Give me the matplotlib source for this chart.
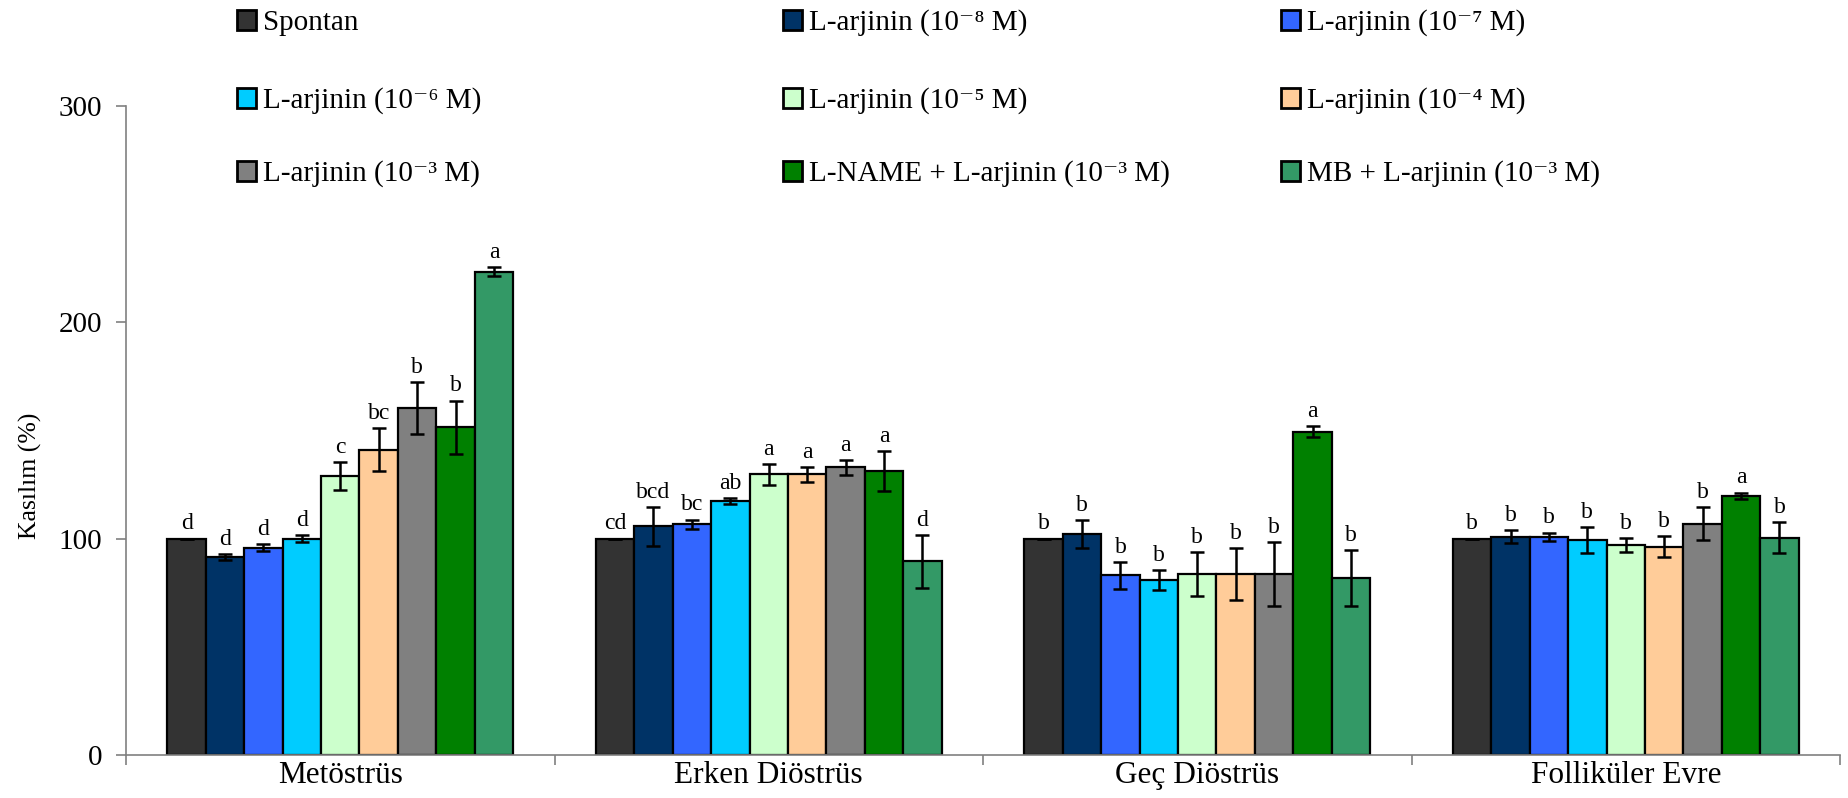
import numpy as np
import matplotlib.pyplot as plt

plt.rcParams['font.family'] = ['Liberation Serif', 'DejaVu Serif']

categories = ["Metöstrüs", "Erken Diöstrüs", "Geç Diöstrüs", "Folliküler Evre"]
series = ["Spontan",
          "L-arjinin (10⁻⁸ M)", "L-arjinin (10⁻⁷ M)",
          "L-arjinin (10⁻⁶ M)", "L-arjinin (10⁻⁵ M)",
          "L-arjinin (10⁻⁴ M)", "L-arjinin (10⁻³ M)",
          "L-NAME + L-arjinin (10⁻³ M)", "MB + L-arjinin (10⁻³ M)"]
colors = ["#333333", "#003366", "#3366FF", "#00CCFF", "#CCFFCC",
          "#FFCC99", "#808080", "#008000", "#339966"]

# values, one list per phase (order follows series)
met_mean = [100, 91.5, 95.7, 100, 128.9, 141.1, 160.4, 151.4, 223.4]
met_err = [0, 1.3, 1.6, 1.7, 6.4, 10, 11.9, 12.4, 2.1]
met_sig = ["d", "d", "d", "d", "c", "bc", "b", "b", "a"]

erk_mean = [100, 105.7, 106.6, 117.3, 129.8, 129.8, 132.9, 131.2, 89.5]
erk_err = [0, 8.9, 2.2, 1.5, 4.8, 3.4, 3.3, 9.1, 12.1]
erk_sig = ["cd", "bcd", "bc", "ab", "a", "a", "a", "a", "d"]

gec_mean = [100, 102.3, 83.0, 80.7, 83.8, 83.8, 83.5, 149.5, 81.8]
gec_err = [0, 6.4, 6.3, 4.6, 10.1, 12, 14.8, 2.6, 13.1]
gec_sig = ["b", "b", "b", "b", "b", "b", "b", "a", "b"]

fol_mean = [100, 100.9, 100.9, 99.4, 97.1, 96.3, 106.8, 119.7, 100.5]
fol_err = [0, 3.1, 1.9, 5.9, 3.2, 5.0, 7.6, 1.6, 7.0]
fol_sig = ["b", "b", "b", "b", "b", "b", "b", "a", "b"]

means = np.array([met_mean, erk_mean, gec_mean, fol_mean])
errs = np.array([met_err, erk_err, gec_err, fol_err])
sigs = [met_sig, erk_sig, gec_sig, fol_sig]

fig = plt.figure(figsize=(18.49, 7.98), dpi=100)
ax = fig.add_axes([0.06815, 0.0539, 0.927, 0.8133])

n = len(series)
w = 0.807 / n
x = np.arange(len(categories))

handles = []
for i in range(n):
    pos = x - 0.807 / 2 + w * (i + 0.5)
    b = ax.bar(pos, means[:, i], w, color=colors[i], edgecolor='black', linewidth=1.6,
               yerr=errs[:, i], capsize=5,
               error_kw=dict(elinewidth=1.8, capthick=1.8, ecolor='black'))
    handles.append(b)
    for j in range(len(categories)):
        ax.annotate(sigs[j][i], (pos[j], means[j, i] + errs[j, i]),
                    xytext=(0, 3), textcoords='offset points',
                    ha='center', va='bottom', fontsize=17)

ax.set_xlim(-0.5, len(categories) - 0.5)
ax.set_ylim(0, 300)
ax.set_yticks([0, 100, 200, 300])
ax.set_xticks(x)
ax.set_xticklabels(categories, fontsize=22.5)
ax.set_xticks(np.arange(len(categories) + 1) - 0.5, minor=True)
ax.tick_params(axis='x', which='major', length=0, pad=4)
ax.tick_params(axis='x', which='minor', length=7, color='#808080', width=1.2)
ax.tick_params(axis='y', length=7, color='#808080', width=1.2, labelsize=21, pad=10)
for s in ['top', 'right']:
    ax.spines[s].set_visible(False)
for s in ['left', 'bottom']:
    ax.spines[s].set_color('#808080')
    ax.spines[s].set_linewidth(1.2)

ax.set_ylabel("Kasılım (%)", fontsize=18.5)
ax.yaxis.set_label_coords(-0.049, 0.43)

# legend: 3 rows x 3 columns, row-major; one entry per legend so rows line up
col_x = [237 / 1849, 783 / 1849, 1281 / 1849]
row_y = [1 - 23 / 798, 1 - 101 / 798, 1 - 174 / 798]
for k in range(n):
    r, c = divmod(k, 3)
    leg = fig.legend([handles[k]], [series[k]],
                     loc='center left', bbox_to_anchor=(col_x[c], row_y[r]),
                     frameon=False, fontsize=21, borderpad=0, borderaxespad=0,
                     handlelength=0.65, handleheight=0.68, handletextpad=0.24)
    for p in leg.get_patches():
        p.set_linewidth(2)

fig.savefig("out.png", dpi=100)
